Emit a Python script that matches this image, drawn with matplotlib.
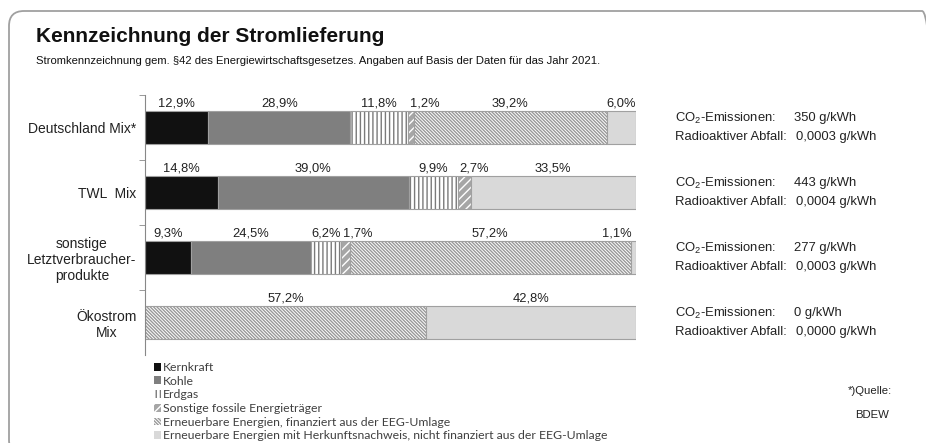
import matplotlib
matplotlib.use('Agg')
import matplotlib.pyplot as plt
import matplotlib.transforms as mtransforms
from matplotlib.patches import FancyBboxPatch

plt.rcParams['font.family'] = ['Liberation Sans', 'DejaVu Sans']
plt.rcParams['mathtext.default'] = 'regular'
plt.rcParams['hatch.linewidth'] = 1.0

categories = ['Deutschland Mix*', 'TWL  Mix', 'sonstige\nLetztverbraucher-\nprodukte', 'Ökostrom\nMix']
kernkraft = [12.9, 14.8, 9.3, 0]
kohle = [28.9, 39.0, 24.5, 0]
erdgas = [11.8, 9.9, 6.2, 0]
sonstige = [1.2, 2.7, 1.7, 0]
eeg = [39.2, 0, 57.2, 57.2]
hkn = [6.0, 33.5, 1.1, 42.8]
co2 = ['350', '443', '277', '0']
abfall = ['0,0003', '0,0004', '0,0003', '0,0000']

series = [
    ('Kernkraft', kernkraft, '#111111', '#111111', ''),
    ('Kohle', kohle, '#7f7f7f', '#7f7f7f', ''),
    ('Erdgas', erdgas, 'white', '#7a7a7a', '||||'),
    ('Sonstige fossile Energieträger', sonstige, '#a6a6a6', 'white', '////'),
    ('Erneuerbare Energien, finanziert aus der EEG-Umlage', eeg, 'white', '#999999', '\\' * 10),
    ('Erneuerbare Energien mit Herkunftsnachweis, nicht finanziert aus der EEG-Umlage', hkn, '#d9d9d9', '#d9d9d9', ''),
]

fig = plt.figure(figsize=(9.26, 4.43), dpi=100)
ax = fig.add_axes([145/926, 1-355/443, 491/926, 260/443])

ypos = list(range(len(categories)))
left = [0.0] * len(categories)
handles = []
for name, vals, face, hcol, hatch in series:
    b = ax.barh(ypos, vals, left=left, height=0.5, color=face, edgecolor=hcol,
                hatch=hatch, linewidth=0, label=name)
    ax.barh(ypos, vals, left=left, height=0.5, fill=False, edgecolor='#a0a0a0', linewidth=0.8)
    handles.append(b)
    for i, v in enumerate(vals):
        if v <= 0:
            continue
        end = left[i] + v
        if v < 3 and end > 99:
            x, ha = end - 0.8, 'right'
        elif v < 3:
            x, ha = left[i] + 0.3, 'left'
        else:
            x, ha = left[i] + v / 2, 'center'
        ax.text(x, i - 0.27, f'{v:.1f}%'.replace('.', ','), ha=ha, va='bottom',
                fontsize=9.3, color='#222222')
    left = [l + v for l, v in zip(left, vals)]

ax.set_xlim(0, 100)
ax.set_ylim(3.5, -0.5)
for s in ['top', 'right', 'bottom']:
    ax.spines[s].set_visible(False)
ax.spines['left'].set_color('#888888')
ax.set_xticks([])
ax.set_yticks(ypos)
ax.set_yticklabels(categories, fontsize=10, color='#222222')
for t in ax.get_yticklabels():
    t.set_multialignment('center')
ax.tick_params(axis='y', which='major', length=0, pad=6)
ax.set_yticks([-0.5, 0.5, 1.5, 2.5], minor=True)
ax.tick_params(axis='y', which='minor', length=4, color='#888888', direction='out')

# emissions text to the right of each bar
tr = mtransforms.blended_transform_factory(fig.transFigure, ax.transData)
for i in ypos:
    fig.text(675/926, i - 0.14, 'CO$_2$-Emissionen:', transform=tr, fontsize=9.4,
             va='center', color='#222222')
    fig.text(794/926, i - 0.14, f'{co2[i]} g/kWh', transform=tr, fontsize=9.4,
             va='center', color='#222222')
    fig.text(675/926, i + 0.14, 'Radioaktiver Abfall:', transform=tr, fontsize=9.4,
             va='center', color='#222222')
    fig.text(796/926, i + 0.14, f'{abfall[i]} g/kWh', transform=tr, fontsize=9.4,
             va='center', color='#222222')

fig.text(36/926, 1-36/443, 'Kennzeichnung der Stromlieferung', fontsize=15,
         fontweight='bold', va='center', color='#111111')
fig.text(36/926, 1-61/443,
         'Stromkennzeichnung gem. §42 des Energiewirtschaftsgesetzes. Angaben auf Basis der Daten für das Jahr 2021.',
         fontsize=8.1, va='center', color='#111111')

leg = fig.legend(handles=handles, loc='upper left', bbox_to_anchor=(154/926, 1-362/443),
                 frameon=False, handlelength=0.6, handleheight=0.6,
                 handletextpad=0.15, labelspacing=0.22, borderpad=0, borderaxespad=0,
                 prop={'family': 'Lato', 'size': 8.8})
for t in leg.get_texts():
    t.set_color('#404040')

fig.text(870/926, 1-391/443, '*)Quelle:', fontsize=8.2, ha='center', va='center', color='#222222')
fig.text(872/926, 1-415/443, 'BDEW', fontsize=8.2, ha='center', va='center', color='#222222')

box = FancyBboxPatch((0.09, -0.12), 9.28, 4.44, boxstyle='round,pad=0,rounding_size=0.15',
                     transform=fig.dpi_scale_trans, fill=False, edgecolor='#a0a0a0',
                     linewidth=1.3, clip_on=False)
fig.patches.append(box)

fig.savefig('out.png', dpi=100)
